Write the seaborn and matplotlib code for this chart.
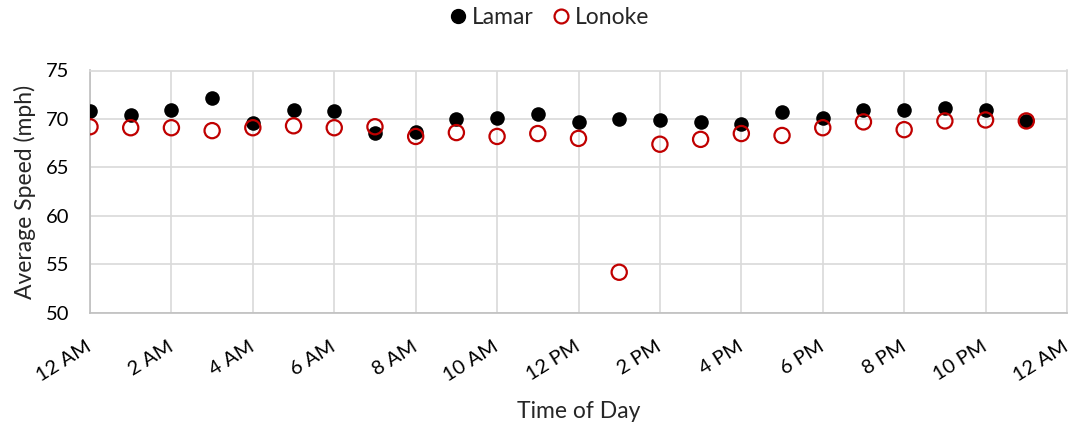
import numpy as np
import pandas as pd
import seaborn as sns
from matplotlib import pyplot as plt
from matplotlib.lines import Line2D

sns.set_style("white")
plt.rcParams['font.family'] = ['Lato', 'DejaVu Sans']

# hour of day (0 = 12 AM)
hours = list(range(24))
lamar = [70.8, 70.4, 70.9, 72.2, 69.6, 70.9, 70.8, 68.6, 68.7, 70.0, 70.1, 70.5,
         69.7, 70.0, 69.9, 69.7, 69.5, 70.7, 70.1, 70.9, 70.9, 71.1, 70.9, 69.8]
lonoke = [69.2, 69.1, 69.1, 68.8, 69.1, 69.3, 69.1, 69.2, 68.2, 68.6, 68.2, 68.5,
          68.0, 54.2, 67.4, 67.9, 68.5, 68.3, 69.1, 69.7, 68.9, 69.8, 69.9, 69.8]
tick_hours = list(range(0, 25, 2))
tick_labels = ['12 AM', '2 AM', '4 AM', '6 AM', '8 AM', '10 AM', '12 PM',
               '2 PM', '4 PM', '6 PM', '8 PM', '10 PM', '12 AM']

df = pd.DataFrame({'Hour': hours, 'Lamar': lamar, 'Lonoke': lonoke})

fig = plt.figure(figsize=(10.73, 4.28), dpi=100)
ax = fig.add_axes([90/1073, 1-313/428, (1067-90)/1073, (313-70.5)/428])

grid_c = '#d9d9d9'
sns.scatterplot(data=df, x='Hour', y='Lamar', ax=ax, color='black', s=110,
                edgecolor='black', linewidth=0, zorder=3)
sns.scatterplot(data=df, x='Hour', y='Lonoke', ax=ax, facecolor='none', s=120,
                edgecolor='#c00000', linewidth=1.6, zorder=4)

ax.set_xlim(0, 24)
ax.set_ylim(50, 75)
ax.set_xticks(tick_hours)
ax.set_xticklabels(tick_labels, rotation=32, ha='right', va='center',
                   rotation_mode='anchor')
ax.set_yticks(range(50, 76, 5))
ax.tick_params(axis='both', labelsize=14.5, length=0, colors='black')
ax.tick_params(axis='x', pad=23)
ax.tick_params(axis='y', pad=15)
ax.grid(True, color=grid_c, linewidth=1.2)
for s in ['top', 'right']:
    ax.spines[s].set_color(grid_c)
    ax.spines[s].set_linewidth(1.2)
for s in ['left', 'bottom']:
    ax.spines[s].set_color('#bfbfbf')
    ax.spines[s].set_linewidth(1.2)

ax.set_xlabel('Time of Day', fontsize=16.5, labelpad=12)
ax.set_ylabel('Average Speed (mph)', fontsize=16.5, labelpad=7)

handles = [
    Line2D([], [], marker='o', linestyle='none', color='black', markersize=10),
    Line2D([], [], marker='o', linestyle='none', markerfacecolor='none',
           markeredgecolor='#c00000', markeredgewidth=1.6, markersize=10),
]
fig.legend(handles, ['Lamar', 'Lonoke'], loc='center', ncol=2,
           bbox_to_anchor=(548/1073, 1-18/428), frameon=False, fontsize=16.5,
           handletextpad=0.1, columnspacing=0.7, handlelength=1.0)

plt.savefig('out.png', dpi=100)
